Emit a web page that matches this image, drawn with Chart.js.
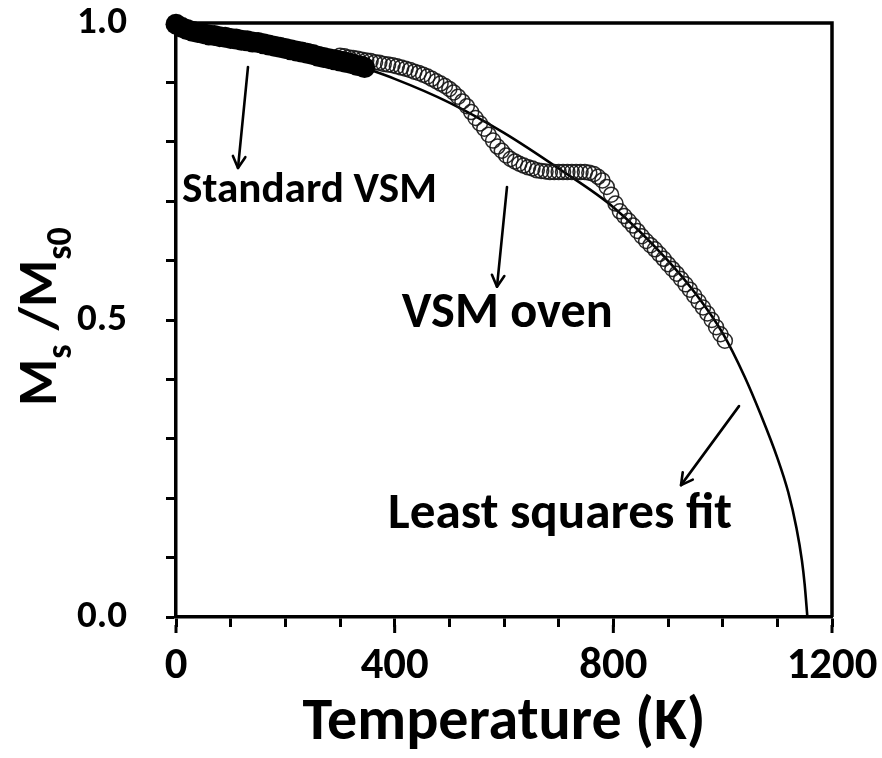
<!DOCTYPE html>
<html><head><meta charset="utf-8">
<script src="https://cdn.jsdelivr.net/npm/chart.js@4.4.1/dist/chart.umd.min.js"></script>
<style>html,body{margin:0;padding:0;background:#fff}#wrap{width:882px;height:758px;position:relative}</style>
</head><body><div id="wrap"><canvas id="c" width="882" height="758"></canvas></div>
<script>
// ---------- data ----------
const standardT = [0,10,20,30,40,50,60,70,80,90,100,110,120,130,140,150,160,170,180,190,200,210,220,230,240,250,260,270,280,290,300,310,320,330,340,345];
const standardM = [0.998,0.993,0.989,0.986,0.984,0.982,0.980,0.979,0.977,0.976,0.974,0.973,0.971,0.970,0.968,0.967,0.965,0.963,0.961,0.959,0.957,0.955,0.953,0.951,0.949,0.947,0.944,0.942,0.940,0.938,0.936,0.934,0.932,0.929,0.927,0.925];

const ovenT = [300,308,316,324,332,340,348,356,364,372,380,388,396,404,412,420,428,436,444,452,460,468,476,484,492,500,508,516,524,532,540,548,556,564,572,580,588,596,604,612,620,628,636,644,652,660,668,676,684,692,700,708,716,724,732,740,748,756,764,772,780,788,796,804,812,820,828,836,844,852,860,868,876,884,892,900,908,916,924,932,940,948,956,964,972,980,988,996,1004];
const ovenM = [0.945,0.944,0.942,0.941,0.940,0.938,0.937,0.936,0.934,0.933,0.931,0.930,0.929,0.927,0.925,0.923,0.921,0.918,0.916,0.913,0.910,0.906,0.902,0.898,0.894,0.889,0.883,0.876,0.868,0.860,0.850,0.840,0.831,0.822,0.812,0.802,0.792,0.785,0.777,0.771,0.767,0.763,0.760,0.757,0.755,0.752,0.751,0.750,0.749,0.749,0.749,0.749,0.749,0.749,0.749,0.749,0.749,0.748,0.746,0.741,0.735,0.724,0.711,0.696,0.683,0.675,0.667,0.659,0.650,0.641,0.633,0.626,0.619,0.611,0.603,0.594,0.586,0.578,0.569,0.560,0.551,0.541,0.531,0.521,0.511,0.500,0.488,0.476,0.465];

const fitT = [0,100,200,300,400,500,600,700,800,900,950,1000,1040,1070,1100,1120,1135,1145,1150,1155];
const fitM = [1.000,0.988,0.966,0.938,0.906,0.866,0.815,0.755,0.690,0.600,0.545,0.478,0.405,0.340,0.268,0.210,0.150,0.095,0.055,0.000];

const xTickLabels = ['0','400','800','1200'];
const xMajorTicks = [0,400,800,1200];
const yTickLabels = ['0.0','0.5','1.0'];
const xTitleText = 'Temperature (K)';
const yTitleParts = ['M','s',' /','M','s0'];
const noteTexts = ['Standard VSM','VSM oven','Least squares fit'];

// ---------- layout / style (kept separate from data) ----------
const FAMILY = 'Carlito, Lato, sans-serif';
const mctx = document.createElement('canvas').getContext('2d');
function fitSize(text, width){ mctx.font = 'bold 100px ' + FAMILY; return 100*width/mctx.measureText(text).width; }

const yTickSize = fitSize('0.0', 50);
const xTickSize = fitSize('400', 68);
const xTitleSize = fitSize(xTitleText, 403);

// annotation anchors in data units (T, M); arrows from -> to
const notePlace = [
  {T:11,  M:0.699, w:255, arrow:[131.7,0.926,113.4,0.756]},
  {T:413, M:0.488, w:211, arrow:[605.5,0.724,587.2,0.556]},
  {T:388, M:0.150, w:344, arrow:[1029.9,0.355,923.8,0.222]}
];

const pts = (xs, ys) => xs.map((x,i)=>({x:x, y:ys[i]}));
function noPad(s){ s.paddingTop = 0; s.paddingBottom = 0; s.paddingLeft = 0; s.paddingRight = 0; }

const framePlugin = {
  id:'frame',
  beforeDatasetsDraw(chart){
    const {ctx, chartArea:a} = chart;
    const xs = chart.scales.x;
    ctx.save();
    ctx.strokeStyle = '#000'; ctx.lineWidth = 3.5;
    ctx.beginPath();
    ctx.moveTo(a.left, a.top); ctx.lineTo(a.right, a.top); ctx.lineTo(a.right, a.bottom);
    ctx.stroke();
    // longer major ticks on the x axis
    ctx.lineWidth = 3;
    xMajorTicks.forEach(v=>{
      const px = xs.getPixelForValue(v);
      ctx.beginPath(); ctx.moveTo(px, a.bottom + 8); ctx.lineTo(px, a.bottom + 16); ctx.stroke();
    });
    ctx.restore();
  },
  afterDraw(chart){
    const {ctx} = chart;
    const xs = chart.scales.x, ys = chart.scales.y;
    ctx.save();
    ctx.fillStyle = '#000'; ctx.strokeStyle = '#000';
    noteTexts.forEach((t,i)=>{
      const p = notePlace[i];
      ctx.font = 'bold ' + fitSize(t, p.w) + 'px ' + FAMILY;
      ctx.textBaseline = 'alphabetic'; ctx.textAlign = 'left';
      ctx.fillText(t, xs.getPixelForValue(p.T), ys.getPixelForValue(p.M));
      const [t1,m1,t2,m2] = p.arrow;
      const x1 = xs.getPixelForValue(t1), y1 = ys.getPixelForValue(m1);
      const x2 = xs.getPixelForValue(t2), y2 = ys.getPixelForValue(m2);
      ctx.lineWidth = 2.6; ctx.lineCap = 'round'; ctx.lineJoin = 'round';
      ctx.beginPath(); ctx.moveTo(x1,y1); ctx.lineTo(x2,y2); ctx.stroke();
      const ang = Math.atan2(y2-y1, x2-x1), L = 13, spread = 0.5;
      ctx.beginPath();
      ctx.moveTo(x2 - L*Math.cos(ang-spread), y2 - L*Math.sin(ang-spread));
      ctx.lineTo(x2, y2);
      ctx.lineTo(x2 - L*Math.cos(ang+spread), y2 - L*Math.sin(ang+spread));
      ctx.stroke();
    });
    const big = 54, sub = 36;
    ctx.translate(56, 406);
    ctx.rotate(-Math.PI/2);
    let x = 0;
    yTitleParts.forEach((part,i)=>{
      const isSub = (i===1 || i===4);
      ctx.font = 'bold ' + (isSub?sub:big) + 'px ' + FAMILY;
      ctx.fillText(part, x, isSub ? 15 : 0);
      x += ctx.measureText(part).width + (isSub ? 2 : 0);
    });
    ctx.restore();
  }
};

new Chart(document.getElementById('c'), {
  type:'scatter',
  data:{ datasets:[
    { label:'Least squares fit', type:'line', data:pts(fitT, fitM), borderColor:'#000', borderWidth:2.6,
      pointRadius:0, fill:false, cubicInterpolationMode:'monotone', order:3 },
    { label:'VSM oven', data:pts(ovenT, ovenM), pointRadius:7.5, pointBackgroundColor:'rgba(0,0,0,0)',
      pointBorderColor:'rgba(20,20,20,0.9)', pointBorderWidth:1.5, order:2, clip:false },
    { label:'Standard VSM', data:pts(standardT, standardM), pointRadius:10.5, pointBackgroundColor:'#000',
      pointBorderColor:'#000', pointBorderWidth:0, order:1, clip:false }
  ]},
  options:{
    responsive:false, animation:false, devicePixelRatio:1,
    layout:{ padding:{ top:23, right:50, left:0, bottom:0 } },
    plugins:{ legend:{display:false}, tooltip:{enabled:false} },
    scales:{
      x:{ type:'linear', min:0, max:1200,
        afterFit(s){ s.height = 141; noPad(s); },
        border:{ display:true, color:'#000', width:3.5 },
        grid:{ drawOnChartArea:false, drawTicks:true, tickLength:10, tickWidth:3, color:'#000' },
        ticks:{ stepSize:100, autoSkip:false, maxRotation:0, color:'#000', padding:17,
          font:{ family:FAMILY, weight:'bold', size:xTickSize, lineHeight:1 },
          callback(v){ const k = Math.round(v/400); return Math.abs(v - k*400) < 1e-6 ? xTickLabels[k] : ''; } },
        title:{ display:true, text:xTitleText, color:'#000', padding:{top:0,bottom:4},
          font:{ family:FAMILY, weight:'bold', size:xTitleSize, lineHeight:1 } }
      },
      y:{ type:'linear', min:0, max:1,
        afterFit(s){ s.width = 176; noPad(s); },
        border:{ display:true, color:'#000', width:3.5 },
        grid:{ drawOnChartArea:false, drawTicks:true, tickLength:10, tickWidth:3, color:'#000' },
        ticks:{ stepSize:0.1, autoSkip:false, color:'#000', padding:39,
          font:{ family:FAMILY, weight:'bold', size:yTickSize, lineHeight:1 },
          callback(v){ const k = Math.round(v*2); return Math.abs(v*2 - k) < 1e-6 ? yTickLabels[k] : ''; } }
      }
    }
  },
  plugins:[framePlugin]
});
</script></body></html>
